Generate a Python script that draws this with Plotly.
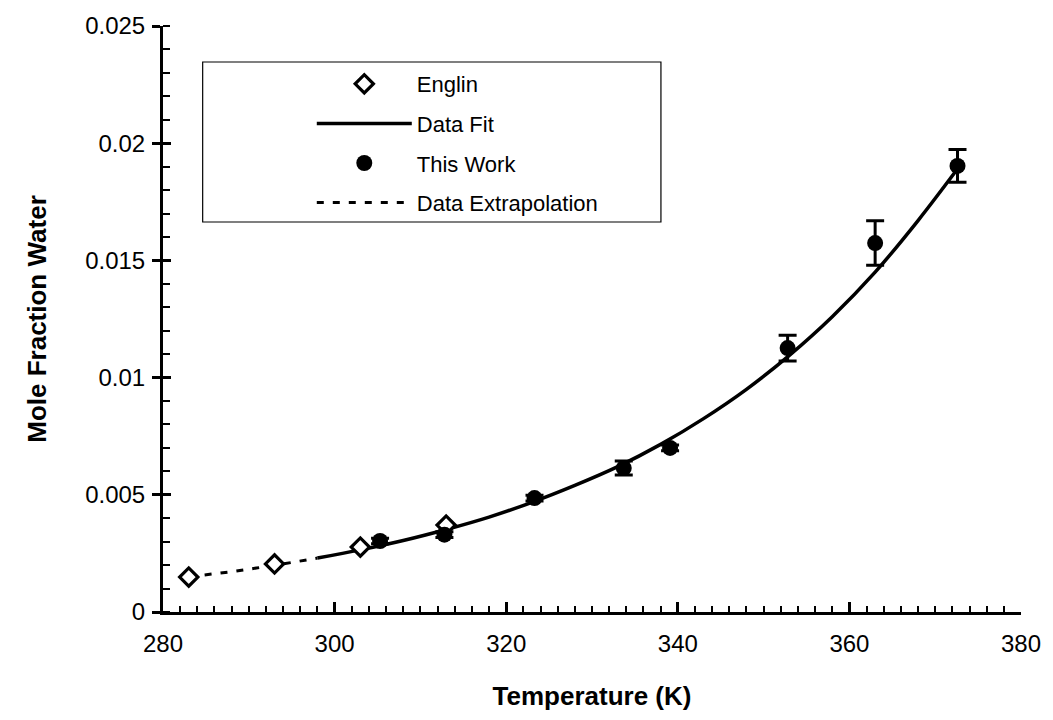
import plotly.graph_objects as go

# Englin literature data
englin_T = [283, 293, 303, 313]
englin_x = [0.00149, 0.00205, 0.00277, 0.00371]

# Measured points with error bars
work_T = [305.3, 312.8, 323.3, 333.7, 339.1, 352.8, 363.0, 372.6]
work_x = [0.00303, 0.00330, 0.00486, 0.00614, 0.00700, 0.01126, 0.01574, 0.01903]
work_err = [0.00012, 0.00012, 0.00012, 0.00030, 0.00012, 0.00055, 0.00095, 0.00070]

# Fitted curve over the measured range
fit_T = [298, 303, 308, 313, 318, 323, 328, 333, 338, 343, 348, 353, 358, 363, 368, 373]
fit_x = [0.00230, 0.00265, 0.00305, 0.00352, 0.00405, 0.00468, 0.00540, 0.00620,
         0.00715, 0.00825, 0.00950, 0.01095, 0.01260, 0.01450, 0.01670, 0.01910]

# Extrapolation below the measured range
extrap_T = [283, 288, 293, 298]
extrap_x = [0.00150, 0.00172, 0.00199, 0.00230]

x_ticks = [280, 300, 320, 340, 360, 380]
y_ticks = [0, 0.005, 0.01, 0.015, 0.02, 0.025]
y_tick_text = ["0", "0.005", "0.01", "0.015", "0.02", "0.025"]

FONT = "Liberation Sans, Arial, sans-serif"
TITLE_FONT = "Liberation Sans Narrow, Arial Narrow, Liberation Sans, Arial, sans-serif"

fig = go.Figure()

fig.add_trace(go.Scatter(
    x=extrap_T, y=extrap_x, mode="lines", name="Data Extrapolation",
    line=dict(color="black", width=3, dash="7px,9px"),
    legendgroup="d", legendrank=4,
))
fig.add_trace(go.Scatter(
    x=fit_T, y=fit_x, mode="lines", name="Data Fit",
    line=dict(color="black", width=3.5, shape="spline"),
    legendgroup="b", legendrank=2,
))
fig.add_trace(go.Scatter(
    x=englin_T, y=englin_x, mode="markers", name="Englin",
    marker=dict(symbol="diamond", size=14, color="white",
                line=dict(color="black", width=3.2)),
    legendgroup="a", legendrank=1,
))
fig.add_trace(go.Scatter(
    x=work_T, y=work_x, mode="markers", name="This Work",
    marker=dict(symbol="circle", size=16, color="black"),
    error_y=dict(type="data", array=work_err, visible=True,
                 color="black", thickness=3, width=9),
    legendgroup="c", legendrank=3,
))
# carrier for the inner half of the major y ticks
fig.add_trace(go.Scatter(x=[None], y=[None], yaxis="y2", showlegend=False,
                         hoverinfo="skip"))

# legend frame
fig.add_shape(type="rect", xref="paper", yref="paper",
              x0=(203 - 163) / 865, x1=(665 - 163) / 865,
              y0=(612 - 222) / 586, y1=(612 - 62) / 586,
              line=dict(color="black", width=1.2), fillcolor="white", layer="below")

fig.update_layout(
    width=1053, height=720,
    margin=dict(l=163, r=25, t=26, b=108),
    paper_bgcolor="white", plot_bgcolor="white",
    font=dict(family=FONT, size=22, color="black"),
    showlegend=True,
    legend=dict(
        x=(313 - 163) / 865, y=(612 - 63) / 586, xanchor="left", yanchor="top",
        bgcolor="rgba(0,0,0,0)", borderwidth=0,
        font=dict(family=FONT, size=22, color="black"),
        itemwidth=95, tracegroupgap=8, traceorder="grouped",
    ),
    xaxis=dict(
        range=[280, 380], tickvals=x_ticks, ticks="inside", ticklen=10,
        tickwidth=2.5, tickcolor="black",
        minor=dict(dtick=2, tick0=280, ticks="inside", ticklen=6,
                   tickwidth=2, tickcolor="black"),
        showline=True, linecolor="black", linewidth=3,
        showgrid=False, zeroline=False,
        ticklabelstandoff=8,
        tickfont=dict(family=FONT, size=24),
        title=dict(text="<b>Temperature (K)</b>", standoff=32,
                   font=dict(family=TITLE_FONT, size=26)),
    ),
    yaxis=dict(
        range=[0, 0.025], tickvals=y_ticks, ticktext=y_tick_text,
        ticks="outside", ticklen=8, tickwidth=2.5, tickcolor="black",
        minor=dict(dtick=0.001, tick0=0, ticks="inside", ticklen=7,
                   tickwidth=2, tickcolor="black"),
        showline=True, linecolor="black", linewidth=3,
        showgrid=False, zeroline=False,
        ticklabelstandoff=2,
        tickfont=dict(family=FONT, size=24),
        title=dict(text="<b>Mole Fraction Water</b>", standoff=32,
                   font=dict(family=TITLE_FONT, size=26)),
    ),
    yaxis2=dict(
        overlaying="y", range=[0, 0.025], tickvals=y_ticks, side="left",
        ticks="inside", ticklen=8, tickwidth=2.5, tickcolor="black",
        showticklabels=False, showgrid=False, zeroline=False, showline=False,
    ),
)

fig.write_html("out.html")
